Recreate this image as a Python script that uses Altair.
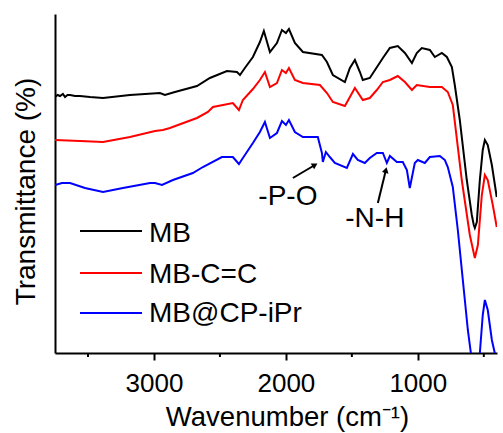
import altair as alt
import pandas as pd

# ---- data (wavenumber in cm-1, transmittance in arbitrary units) ----
series_names = ["MB", "MB-C=C", "MB@CP-iPr"]
series_colors = ["#000000", "#ff0000", "#0000ff"]

mb_wn = [3750, 3730, 3712, 3690, 3674, 3655, 3636, 3598, 3561, 3485, 3386, 3182, 2955, 2917, 2841,
         2674, 2576, 2447, 2371, 2348, 2311, 2250, 2197, 2167, 2121, 2068, 2030, 2000, 1977, 1932,
         1871, 1727, 1689, 1644, 1553, 1515, 1477, 1439, 1417, 1364, 1265, 1212, 1152, 1098, 1045,
         1008, 970, 909, 871, 818, 780, 742, 720, 682, 629, 591, 576, 568, 553, 530, 508, 492, 470,
         439, 402]
mb_t = [256, 258, 257, 259, 256, 258, 258, 257, 257, 256, 255, 258, 260, 258, 261,
        267, 275, 282, 281, 278, 285, 296, 311, 322, 301, 310, 323, 320, 324, 310,
        301, 298, 291, 278, 271, 285, 293, 281, 273, 275, 295, 305, 307, 300, 290,
        300, 305, 303, 296, 300, 296, 286, 268, 233, 173, 138, 128, 125, 131, 173, 203, 213, 208,
        188, 156]

mbc_wn = [3750, 3561, 3386, 3182, 2992, 2932, 2879, 2674, 2591, 2553, 2402, 2356, 2326, 2250, 2197,
          2159, 2121, 2068, 2030, 2000, 1977, 1932, 1871, 1742, 1689, 1644, 1553, 1515, 1477, 1417,
          1364, 1311, 1265, 1212, 1152, 1098, 1045, 1008, 909, 818, 773, 735, 667, 606, 568, 545,
          515, 492, 470, 432, 402]
mbc_t = [213, 212, 211, 216, 222, 223, 225, 235, 241, 246, 250, 243, 253, 264, 273,
         281, 266, 270, 283, 280, 285, 273, 270, 268, 260, 251, 247, 256, 265, 253,
         255, 263, 271, 273, 277, 271, 263, 268, 266, 266, 261, 248, 173, 118, 95, 108,
         158, 178, 173, 148, 126]

cp_wn = [3750, 3697, 3636, 3523, 3386, 3235, 3030, 2992, 2939, 2856, 2705, 2629, 2485, 2402, 2356,
         2326, 2250, 2197, 2159, 2121, 2068, 2030, 2000, 1977, 1932, 1871, 1758, 1727, 1720, 1697,
         1667, 1629, 1538, 1492, 1455, 1402, 1364, 1311, 1265, 1235, 1212, 1159, 1114, 1083, 1061,
         1023, 1000, 947, 909, 833, 795, 773, 735, 697, 659, 621, 598, 568, 545, 530, 508, 492,
         470, 439, 417, 402]
cp_t = [168, 170, 170, 165, 161, 165, 170, 170, 168, 173, 180, 186, 196, 196, 189,
        195, 210, 221, 231, 215, 220, 232, 228, 233, 221, 216, 216, 200, 191, 201,
        196, 190, 185, 199, 193, 190, 195, 200, 200, 190, 197, 191, 191, 183, 165,
        190, 193, 190, 196, 197, 193, 186, 166, 123, 73, 23, 0, -67, -47, 0, 38, 53,
        43, 13, 0, -17]

major_ticks = [3000, 2000, 1000]
minor_ticks = [3500, 2500, 1500, 500]

# annotations
ann_text = ["-P-O", "-N-H"]
ann_text_wn = [1985, 1326]
ann_text_t = [148, 126]
arrow_tail_wn = [1947, 1303]
arrow_tail_t = [175, 150]
arrow_head_wn = [1780, 1242]
arrow_head_t = [188, 183]
arrow_angle = [59, 14]

# ---- build tables ----
rows = []
for name, wn, t in [(series_names[0], mb_wn, mb_t), (series_names[1], mbc_wn, mbc_t),
                    (series_names[2], cp_wn, cp_t)]:
    for w, v in zip(wn, t):
        rows.append({"series": name, "wn": w, "t": v})
df = pd.DataFrame(rows)

W, H = 442, 339
FONT = "Liberation Sans"

x_scale = alt.Scale(domain=[400, 3750], reverse=True, nice=False, zero=False)
y_scale = alt.Scale(domain=[0, 339], nice=False, zero=False)

lines = alt.Chart(df).mark_line(strokeWidth=2, clip=True).encode(
    x=alt.X("wn:Q", scale=x_scale,
            axis=alt.Axis(values=major_ticks, format="d", tickSize=7, tickWidth=2, domainWidth=2,
                          domainColor="black", tickColor="black", grid=False,
                          labelFont=FONT, labelFontSize=26, labelColor="black", labelPadding=10,
                          title="Wavenumber (cm⁻¹)", titleFont=FONT, titleFontSize=27.5,
                          titleFontWeight="normal", titleColor="black",
                          titleBaseline="alphabetic", titleY=72, titleX=232, titleAlign="center")),
    y=alt.Y("t:Q", scale=y_scale,
            axis=alt.Axis(labels=False, ticks=False, grid=False, domainWidth=2,
                          domainColor="black",
                          title="Transmittance (%)", titleFont=FONT, titleFontSize=28,
                          titleFontWeight="normal", titleColor="black", titleAngle=270,
                          titleBaseline="alphabetic", titleAlign="center",
                          titleX=-21, titleY=177)),
    color=alt.Color("series:N", scale=alt.Scale(domain=series_names, range=series_colors),
                    legend=None),
    detail="series:N",
)

minor = alt.Chart(pd.DataFrame({"wn": minor_ticks})).mark_rule(
    color="black", strokeWidth=2).encode(
    x=alt.X("wn:Q", scale=x_scale), y=alt.value(H), y2=alt.value(H + 4))

ann_df = pd.DataFrame({"text": ann_text, "wn": ann_text_wn, "t": ann_text_t})
ann = alt.Chart(ann_df).mark_text(font=FONT, fontSize=28, baseline="alphabetic",
                                   align="center", color="black").encode(
    x=alt.X("wn:Q", scale=x_scale), y=alt.Y("t:Q", scale=y_scale), text="text:N")

arr_df = pd.DataFrame({"wn": arrow_tail_wn, "t": arrow_tail_t,
                       "wn2": arrow_head_wn, "t2": arrow_head_t, "ang": arrow_angle})
arrows = alt.Chart(arr_df).mark_rule(color="black", strokeWidth=2).encode(
    x=alt.X("wn:Q", scale=x_scale), y=alt.Y("t:Q", scale=y_scale),
    x2="wn2:Q", y2="t2:Q")
heads = alt.Chart(arr_df).mark_point(shape="triangle-up", filled=True, size=45,
                                     color="black", opacity=1).encode(
    x=alt.X("wn2:Q", scale=x_scale), y=alt.Y("t2:Q", scale=y_scale),
    angle=alt.Angle("ang:Q", scale=None))

legend_layers = []
leg_line_y = [217, 259, 299]
leg_text_y = [228, 269, 308]
for name, col, ly, ty in zip(series_names, series_colors, leg_line_y, leg_text_y):
    d = pd.DataFrame({"s": [name]})
    legend_layers.append(alt.Chart(d).mark_rule(color=col, strokeWidth=2).encode(
        x=alt.value(25), x2=alt.value(87), y=alt.value(ly)))
    legend_layers.append(alt.Chart(d).mark_text(font=FONT, fontSize=28, align="left",
                                                baseline="alphabetic", color="black").encode(
        x=alt.value(94), y=alt.value(ty), text="s:N"))

chart = alt.layer(lines, minor, ann, arrows, heads, *legend_layers).properties(
    width=W, height=H,
    autosize=alt.AutoSizeParams(type="none"),
    padding={"left": 55, "top": 14, "right": 6, "bottom": 80},
    background="white",
).configure_view(stroke=None)

chart.save("out.html", embed_options={"renderer": "svg", "actions": False})
